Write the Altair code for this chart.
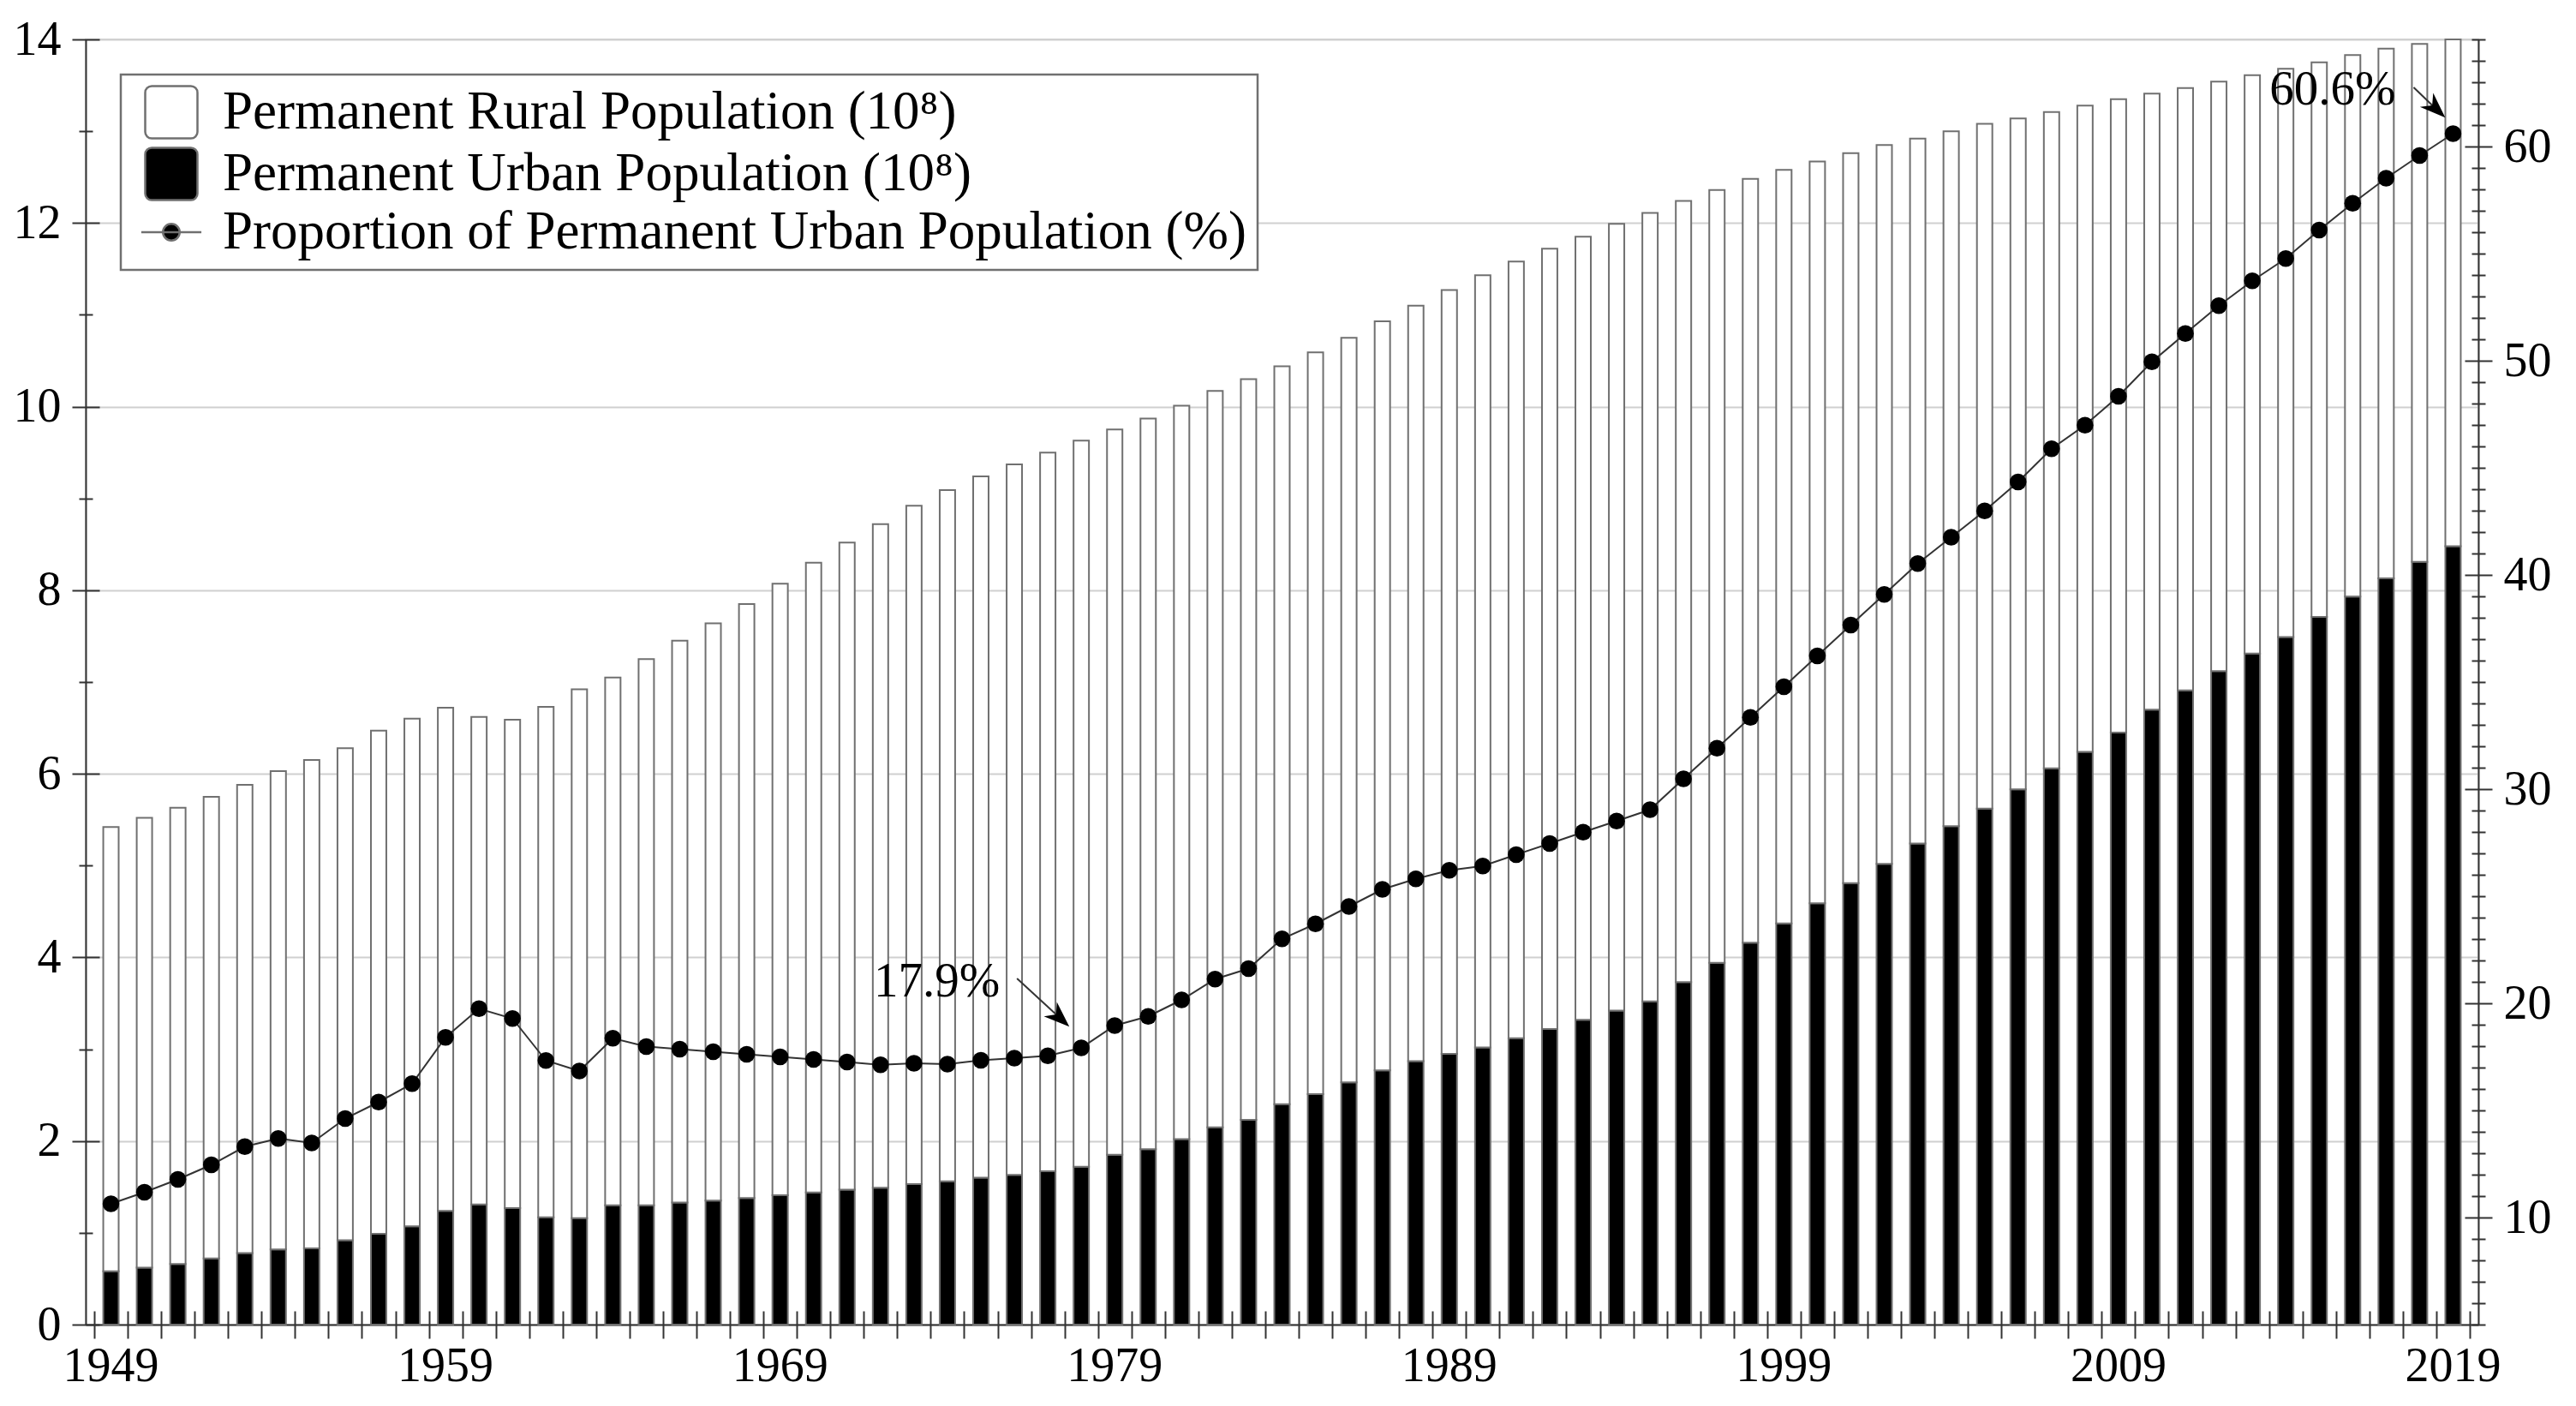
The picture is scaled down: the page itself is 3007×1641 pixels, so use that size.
import altair as alt
import pandas as pd

# ---------------- data ----------------
years = list(range(1949, 2020))
total_pop = [5.42, 5.52, 5.63, 5.75, 5.88, 6.03, 6.15, 6.28, 6.47, 6.60,
             6.72, 6.62, 6.59, 6.73, 6.92, 7.05, 7.25, 7.45, 7.64, 7.85,
             8.07, 8.30, 8.52, 8.72, 8.92, 9.09, 9.24, 9.37, 9.50, 9.63,
             9.75, 9.87, 10.01, 10.17, 10.30, 10.44, 10.59, 10.75, 10.93, 11.10,
             11.27, 11.43, 11.58, 11.72, 11.85, 11.99, 12.11, 12.24, 12.36, 12.48,
             12.58, 12.67, 12.76, 12.85, 12.92, 13.00, 13.08, 13.14, 13.21, 13.28,
             13.35, 13.41, 13.47, 13.54, 13.61, 13.68, 13.75, 13.83, 13.90, 13.95,
             14.00]
urban_pop = [0.58, 0.62, 0.66, 0.72, 0.78, 0.82, 0.83, 0.92, 0.99, 1.07,
             1.24, 1.31, 1.27, 1.17, 1.16, 1.30, 1.30, 1.33, 1.35, 1.38,
             1.41, 1.44, 1.47, 1.49, 1.53, 1.56, 1.60, 1.63, 1.67, 1.72,
             1.85, 1.91, 2.02, 2.15, 2.23, 2.40, 2.51, 2.64, 2.77, 2.87,
             2.95, 3.02, 3.12, 3.22, 3.32, 3.42, 3.52, 3.73, 3.94, 4.16,
             4.37, 4.59, 4.81, 5.02, 5.24, 5.43, 5.62, 5.83, 6.06, 6.24,
             6.45, 6.70, 6.91, 7.12, 7.31, 7.49, 7.71, 7.93, 8.13, 8.31,
             8.48]
urban_pct = [10.64, 11.18, 11.78, 12.46, 13.31, 13.69, 13.48, 14.62, 15.39, 16.25,
             18.41, 19.75, 19.29, 17.33, 16.84, 18.37, 17.98, 17.86, 17.74, 17.62,
             17.50, 17.38, 17.26, 17.13, 17.20, 17.16, 17.34, 17.44, 17.55, 17.92,
             18.96, 19.39, 20.16, 21.13, 21.62, 23.01, 23.71, 24.52, 25.32, 25.81,
             26.21, 26.41, 26.94, 27.46, 27.99, 28.51, 29.04, 30.48, 31.91, 33.35,
             34.78, 36.22, 37.66, 39.09, 40.53, 41.76, 42.99, 44.34, 45.89, 46.99,
             48.34, 49.95, 51.27, 52.57, 53.73, 54.77, 56.10, 57.35, 58.52, 59.58,
             60.60]

series_names = ["Permanent Rural Population (10\u2078)",
                "Permanent Urban Population (10\u2078)",
                "Proportion of Permanent Urban Population (%)"]
ann_years = [1978, 2019]
ann_labels = ["17.9%", "60.6%"]

left_major = [0, 2, 4, 6, 8, 10, 12, 14]
left_minor = [1, 3, 5, 7, 9, 11, 13]
right_major = [10, 20, 30, 40, 50, 60]
right_minor = [5, 6, 7, 8, 9, 11, 12, 13, 14, 15, 16, 17, 18, 19, 21, 22, 23, 24, 25,
               26, 27, 28, 29, 31, 32, 33, 34, 35, 36, 37, 38, 39, 41, 42, 43, 44, 45,
               46, 47, 48, 49, 51, 52, 53, 54, 55, 56, 57, 58, 59, 61, 62, 63, 64, 65]

# ---------------- tables ----------------
df = pd.DataFrame({"year": years, "total": total_pop, "urban": urban_pop, "pct": urban_pct})
df["rural"] = (df["total"] - df["urban"]).round(2)

bars_df = pd.concat([
    pd.DataFrame({"year": years, "series": series_names[1], "value": urban_pop, "ord": 0}),
    pd.DataFrame({"year": years, "series": series_names[0], "value": df["rural"], "ord": 1}),
], ignore_index=True)

ann_df = df[df["year"].isin(ann_years)].copy()
ann_df["label"] = ann_labels

FONT = "Liberation Serif"
AX = "#333333"
xs = alt.Scale(type="band", paddingInner=0, paddingOuter=0.256)
ls = alt.Scale(domain=[0, 14], nice=False, zero=True)
rs = alt.Scale(domain=[5, 65], nice=False, zero=False)

RSQ = ("M-0.75,-1 L0.75,-1 A0.25,0.25 0 0 1 1,-0.75 L1,0.75 A0.25,0.25 0 0 1 0.75,1 "
       "L-0.75,1 A0.25,0.25 0 0 1 -1,0.75 L-1,-0.75 A0.25,0.25 0 0 1 -0.75,-1 Z")
LINEDOT = ("M-1.15,0 L1.15,0 M0.32,0 A0.32,0.32 0 1 1 -0.32,0 "
           "A0.32,0.32 0 1 1 0.32,0 Z")
ARROW = "M1,0 L-1,-0.75 L-0.4,0 L-1,0.75 Z"

fill_scale = alt.Scale(domain=series_names, range=["white", "black", "black"])
shape_scale = alt.Scale(domain=series_names, range=[RSQ, RSQ, LINEDOT])

leg_kw = dict(title=None, orient="top-left", offset=41, padding=12,
              fillColor="white", strokeColor="#707070",
              symbolSize=3721, symbolOffset=15, symbolStrokeColor="#707070",
              symbolStrokeWidth=2.5, labelFont=FONT, labelFontSize=63,
              labelColor="black", labelOffset=28, rowPadding=0, labelLimit=3000)

# ---------------- left group (bars + left axis) ----------------
bars = alt.Chart(bars_df).mark_bar(
    width=alt.RelativeBandSize(0.46), stroke="#707070", strokeWidth=2, opacity=1
).encode(
    x=alt.X("year:O", scale=xs, title=None,
            axis=alt.Axis(orient="bottom", ticks=False, tickSize=0, domain=True,
                          labelExpr="(datum.value - 1949) % 10 === 0 ? datum.label : ''",
                          labelPadding=21, labelAngle=0, labelOverlap=False, grid=False)),
    y=alt.Y("value:Q", stack="zero", scale=ls, title=None,
            axis=alt.Axis(orient="left", values=left_major, ticks=False, tickSize=0,
                          grid=True, gridColor="#d0d0d0", gridWidth=2, labelPadding=29)),
    fill=alt.Fill("series:N", scale=fill_scale, legend=alt.Legend(**leg_kw)),
    order=alt.Order("ord:Q", sort="ascending"),
)

xticks = alt.Chart(df).transform_filter("false").mark_point().encode(
    x=alt.X("year:O", scale=xs, title=None,
            axis=alt.Axis(orient="bottom", offset=-16, tickBand="extent", tickSize=32,
                          domain=False, labels=False, grid=False, zindex=1)),
)
lmaj = alt.Chart(df).transform_filter("false").mark_point().encode(
    y=alt.Y("total:Q", scale=ls, title=None,
            axis=alt.Axis(orient="left", offset=-16, values=left_major, tickSize=32,
                          domain=False, labels=False, grid=False, zindex=1)),
)
lmin = alt.Chart(df).transform_filter("false").mark_point().encode(
    y=alt.Y("total:Q", scale=ls, title=None,
            axis=alt.Axis(orient="left", offset=-8, values=left_minor, tickSize=16,
                          domain=False, labels=False, grid=False, zindex=1)),
)

left_group = alt.layer(bars, xticks, lmaj, lmin).resolve_axis(x="independent", y="independent")

# ---------------- right group (proportion line + annotations) ----------------
xb = dict(scale=xs, axis=None, bandPosition=0.5)

line = alt.Chart(df).mark_line(color="#333333", strokeWidth=2).encode(
    x=alt.X("year:O", **xb),
    y=alt.Y("pct:Q", scale=rs, title=None,
            axis=alt.Axis(orient="right", values=right_major, ticks=False, tickSize=0,
                          domain=True, grid=False, labelPadding=29)),
)
pts = alt.Chart(df).mark_circle(size=380, color="black", opacity=1).encode(
    x=alt.X("year:O", **xb),
    y=alt.Y("pct:Q", scale=rs, axis=None),
)

def annotation(year, rule_off, head_off, angle, text_off):
    sub = ann_df[ann_df["year"] == year]
    base = alt.Chart(sub)
    rule = base.mark_rule(color="#333333", strokeWidth=2,
                          xOffset=rule_off[0], yOffset=rule_off[1],
                          x2Offset=head_off[0], y2Offset=head_off[1]).encode(
        x=alt.X("year:O", **xb), x2=alt.X2("year", bandPosition=0.5),
        y=alt.Y("pct:Q", scale=rs, axis=None), y2="pct",
    )
    head = base.mark_point(shape=ARROW, angle=angle, size=900, filled=True,
                           color="black", opacity=1,
                           xOffset=head_off[0], yOffset=head_off[1]).encode(
        x=alt.X("year:O", **xb),
        y=alt.Y("pct:Q", scale=rs, axis=None),
    )
    txt = base.mark_text(font=FONT, fontSize=57, align="right", baseline="alphabetic",
                         dx=text_off[0], dy=text_off[1], color="black").encode(
        x=alt.X("year:O", **xb),
        y=alt.Y("pct:Q", scale=rs, axis=None),
        text="label:N",
    )
    return [rule, head, txt]

ann1 = annotation(1978, (-75, -81), (-25, -35), 42.5, (-95, -60))
ann2 = annotation(2019, (-46, -54), (-20, -29), 43.4, (-67, -34))

rmaj = alt.Chart(df).transform_filter("false").mark_point().encode(
    y=alt.Y("pct:Q", scale=rs, title=None,
            axis=alt.Axis(orient="right", offset=-16, values=right_major, tickSize=32,
                          domain=False, labels=False, grid=False, zindex=1)),
)
rmin = alt.Chart(df).transform_filter("false").mark_point().encode(
    y=alt.Y("pct:Q", scale=rs, title=None,
            axis=alt.Axis(orient="right", offset=-8, values=right_minor, tickSize=16,
                          domain=False, labels=False, grid=False, zindex=1)),
)

right_group = alt.layer(line, pts, *ann1, *ann2, rmaj, rmin).resolve_axis(y="independent")

# ---------------- legend symbols (from the series names) ----------------
legend_layer = alt.Chart(bars_df).transform_filter("false").mark_point(
    filled=True, stroke="#707070", strokeWidth=2, opacity=1
).encode(
    fill=alt.Fill("series:N", scale=fill_scale, legend=alt.Legend(**leg_kw)),
    shape=alt.Shape("series:N", scale=shape_scale, legend=alt.Legend(**leg_kw)),
)

chart = alt.layer(left_group, right_group, legend_layer).resolve_scale(
    y="independent"
).resolve_axis(
    x="independent", y="independent"
).properties(
    width=2793, height=1500,
    padding={"left": 92, "top": 38, "right": 100, "bottom": 80},
    autosize=alt.AutoSizeParams(type="none"),
).configure_axis(
    labelFont=FONT, labelFontSize=56, labelColor="black",
    domainColor=AX, domainWidth=2, tickColor=AX, tickWidth=2,
).configure_legend(
    strokeWidth=2.5,
).configure_view(
    stroke="#d0d0d0", strokeWidth=2,
)

chart.save("out.html", embed_options={"renderer": "svg", "actions": False})
